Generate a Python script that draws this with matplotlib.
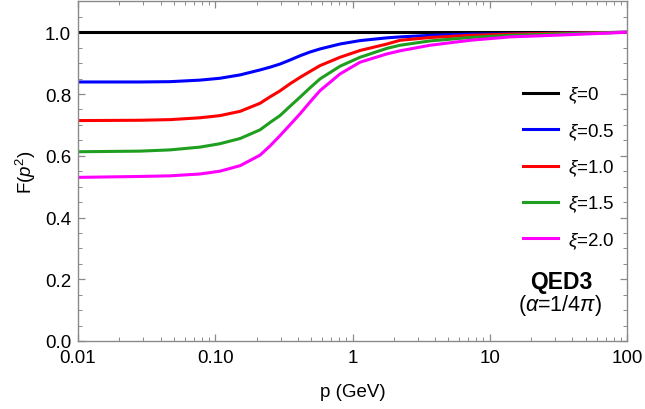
import matplotlib
matplotlib.use("Agg")
import matplotlib.pyplot as plt
from matplotlib.ticker import FixedLocator, NullFormatter, LogLocator, MultipleLocator
from matplotlib.lines import Line2D

plt.rcParams["font.family"] = ["Liberation Sans", "DejaVu Sans"]
plt.rcParams["mathtext.fontset"] = "custom"
plt.rcParams["mathtext.rm"] = "Liberation Sans"
plt.rcParams["mathtext.it"] = "Liberation Sans:italic"
plt.rcParams["mathtext.bf"] = "Liberation Sans:bold"

p = [0.01, 0.0283, 0.0468, 0.0774, 0.108, 0.152, 0.212, 0.251, 0.296, 0.350, 0.415,
     0.490, 0.580, 0.811, 1.134, 1.784, 2.22, 3.67, 7.18, 14.05, 32.5, 100]
F_xi0 = [1.0] * len(p)
F_xi05 = [0.839, 0.839, 0.840, 0.845, 0.851, 0.862, 0.878, 0.887, 0.897, 0.910, 0.924,
          0.936, 0.946, 0.962, 0.973, 0.982, 0.985, 0.990, 0.994, 0.995, 0.997, 1.0]
F_xi10 = [0.714, 0.715, 0.717, 0.723, 0.730, 0.744, 0.770, 0.791, 0.810, 0.833, 0.854,
          0.873, 0.892, 0.919, 0.941, 0.962, 0.974, 0.983, 0.990, 0.994, 0.997, 1.0]
F_xi15 = [0.613, 0.615, 0.619, 0.628, 0.639, 0.656, 0.684, 0.708, 0.730, 0.760, 0.790,
          0.820, 0.849, 0.890, 0.919, 0.948, 0.958, 0.972, 0.983, 0.990, 0.995, 1.0]
F_xi20 = [0.530, 0.533, 0.535, 0.541, 0.550, 0.568, 0.602, 0.632, 0.665, 0.700, 0.736,
          0.774, 0.811, 0.865, 0.903, 0.930, 0.940, 0.958, 0.974, 0.985, 0.991, 1.0]

series = [F_xi0, F_xi05, F_xi10, F_xi15, F_xi20]
labels = ["0", "0.5", "1.0", "1.5", "2.0"]
colors = ["#000000", "#0000ff", "#ff0000", "#1f9f1f", "#ff00ff"]

xticks = [0.01, 0.1, 1, 10, 100]
xticklabels = ["0.01", "0.10", "1", "10", "100"]
yticks = [0.0, 0.2, 0.4, 0.6, 0.8, 1.0]

W, H = 645, 410
fig = plt.figure(figsize=(W / 100, H / 100), dpi=100)
ax = fig.add_axes([78 / W, 1 - 342 / H, (627 - 78) / W, (342 - 2.4) / H])

for F, c in zip(series, colors):
    ax.plot(p, F, color=c, lw=2.2, solid_capstyle="butt")

ax.set_xscale("log")
ax.set_xlim(0.01, 100)
ax.set_ylim(0, 1.1)
ax.xaxis.set_major_locator(FixedLocator(xticks))
ax.set_xticklabels(xticklabels)
ax.xaxis.set_minor_locator(LogLocator(base=10, subs=range(2, 10)))
ax.xaxis.set_minor_formatter(NullFormatter())
ax.yaxis.set_major_locator(FixedLocator(yticks))
ax.set_yticklabels([f"{v:.1f}" for v in yticks])
ax.yaxis.set_minor_locator(MultipleLocator(0.05))

gray = "#8a8a8a"
for s in ax.spines.values():
    s.set_color(gray)
    s.set_linewidth(1.0)
ax.tick_params(which="both", direction="in", top=True, right=True, color=gray,
               labelsize=13.5, labelcolor="black")
ax.tick_params(axis="y", pad=5)
ax.tick_params(axis="x", pad=6)
ax.tick_params(which="major", length=5, width=0.9)
ax.tick_params(which="minor", length=3, width=0.7)

ax.set_xlabel("p (GeV)", fontsize=13.5, labelpad=12)
ax.set_ylabel("F($p^2$)", fontsize=13.5, labelpad=5)

handles = [Line2D([0], [0], color=c, lw=2.2) for c in colors]
ax.legend(handles, ["$\\xi$=" + l for l in labels], loc="upper left",
          bbox_to_anchor=(522.7 / W, 1 - 85.5 / H), bbox_transform=fig.transFigure,
          frameon=False, fontsize=13.5, borderpad=0, borderaxespad=0,
          handlelength=1.9, handletextpad=0.5, labelspacing=0.84)

ax.text(561 / W, 1 - 283 / H, "QED3", transform=fig.transFigure, ha="center",
        va="center", fontsize=16.5, fontweight="bold")
ax.text(560 / W, 1 - 306 / H, "($\\alpha$=1/4$\\pi$)", transform=fig.transFigure,
        ha="center", va="center", fontsize=15.5)

fig.savefig("out.png", dpi=100)
